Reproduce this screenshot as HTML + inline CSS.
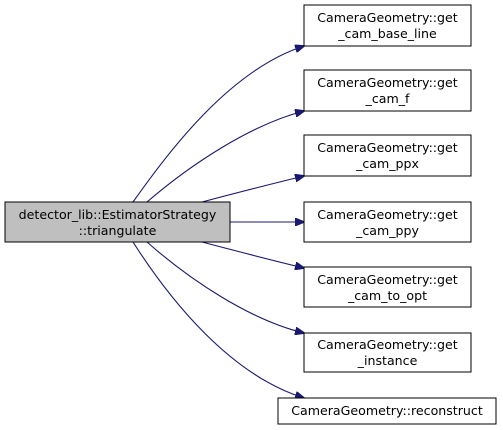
<!DOCTYPE html>
<html><head><style>
html,body{margin:0;padding:0;background:#fff;width:503px;height:430px;overflow:hidden}
text{font-family:"DejaVu Sans","Liberation Sans",sans-serif;font-size:12.6px;fill:#000}
</style></head><body>
<svg width="503" height="430" viewBox="0 0 503 430" xmlns="http://www.w3.org/2000/svg">
<defs><marker id="a" markerWidth="10" markerHeight="8" refX="9" refY="4" orient="auto" markerUnits="userSpaceOnUse"><path d="M0,0 L10,4 L0,8 z" fill="#191970" stroke="#191970"/></marker></defs>
<g fill="none" stroke="#191970" stroke-width="1.1" marker-end="url(#a)">
<path d="M133,202 C170,150 230,70 304,46"/>
<path d="M147,202 C190,165 250,125 304,111"/>
<path d="M202,202 C240,192 275,183 304,176"/>
<path d="M230,222 L304,222"/>
<path d="M202,242 C240,252 275,261 304,268"/>
<path d="M147,242 C190,280 250,320 304,333"/>
<path d="M133,242 C170,300 230,375 304,398"/>
</g>
<rect x="5" y="202" width="225" height="40" fill="#bfbfbf" stroke="#000"/>
<text x="117.5" y="219" text-anchor="middle">detector_lib::EstimatorStrategy</text>
<text x="117.5" y="235" text-anchor="middle">::triangulate</text>
<g fill="#fff" stroke="#000">
<rect x="304" y="5" width="167" height="41"/>
<rect x="304" y="70" width="167" height="41"/>
<rect x="304" y="135" width="167" height="41"/>
<rect x="304" y="202" width="167" height="40"/>
<rect x="304" y="267" width="167" height="40"/>
<rect x="304" y="333" width="167" height="39"/>
<rect x="278" y="398" width="218" height="26"/>
</g>
<g text-anchor="middle">
<text x="387.5" y="22">CameraGeometry::get</text><text x="387.5" y="38">_cam_base_line</text>
<text x="387.5" y="87">CameraGeometry::get</text><text x="387.5" y="103">_cam_f</text>
<text x="387.5" y="152">CameraGeometry::get</text><text x="387.5" y="168">_cam_ppx</text>
<text x="387.5" y="219">CameraGeometry::get</text><text x="387.5" y="235">_cam_ppy</text>
<text x="387.5" y="284">CameraGeometry::get</text><text x="387.5" y="300">_cam_to_opt</text>
<text x="387.5" y="349">CameraGeometry::get</text><text x="387.5" y="365">_instance</text>
<text x="387" y="415">CameraGeometry::reconstruct</text>
</g>
</svg>
</body></html>
